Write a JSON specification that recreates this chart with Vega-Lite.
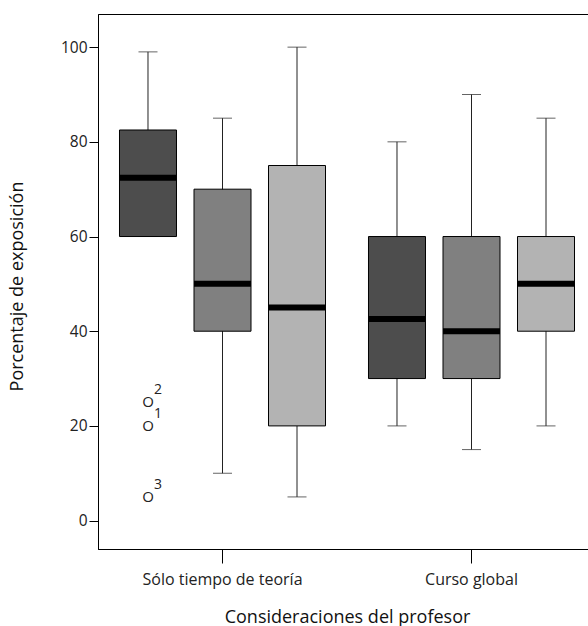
{
  "$schema": "https://vega.github.io/schema/vega-lite/v6.json",
  "width": 490,
  "height": 535,
  "autosize": "none",
  "padding": {"left": 98, "top": 14, "right": 0, "bottom": 77},
  "config": {
    "font": "Open Sans",
    "view": {"stroke": "#000000", "strokeWidth": 1},
    "axis": {"domainColor": "#000000", "tickColor": "#000000", "labelColor": "#222222", "titleColor": "#111111", "grid": false, "labelFont": "Open Sans", "titleFont": "Open Sans", "titleFontWeight": "normal"}
  },
  "datasets": {
    "cajas": [
      {"grupo": "Sólo tiempo de teoría", "serie": "A", "lo": 60, "q1": 60, "med": 72.4, "q3": 82.5, "hi": 99},
      {"grupo": "Sólo tiempo de teoría", "serie": "B", "lo": 10, "q1": 40, "med": 50, "q3": 70, "hi": 85},
      {"grupo": "Sólo tiempo de teoría", "serie": "C", "lo": 5, "q1": 20, "med": 45, "q3": 75, "hi": 100},
      {"grupo": "Curso global", "serie": "A", "lo": 20, "q1": 30, "med": 42.6, "q3": 60, "hi": 80},
      {"grupo": "Curso global", "serie": "B", "lo": 15, "q1": 30, "med": 40, "q3": 60, "hi": 90},
      {"grupo": "Curso global", "serie": "C", "lo": 20, "q1": 40, "med": 50, "q3": 60, "hi": 85}
    ],
    "atipicos": [
      {"grupo": "Sólo tiempo de teoría", "serie": "A", "valor": 25, "caso": "2"},
      {"grupo": "Sólo tiempo de teoría", "serie": "A", "valor": 20, "caso": "1"},
      {"grupo": "Sólo tiempo de teoría", "serie": "A", "valor": 5, "caso": "3"}
    ]
  },
  "encoding": {
    "x": {
      "field": "grupo",
      "type": "nominal",
      "sort": ["Sólo tiempo de teoría", "Curso global"],
      "scale": {"domain": ["Sólo tiempo de teoría", "Curso global"], "range": [0, 498], "paddingInner": 0, "paddingOuter": 0},
      "axis": {
        "title": "Consideraciones del profesor",
        "labelAngle": 0,
        "labelFontSize": 16,
        "titleFontSize": 18,
        "tickSize": 14,
        "labelPadding": 8,
        "titleY": 59,
        "titleAnchor": "middle",
        "titleAlign": "center"
      }
    },
    "xOffset": {
      "field": "serie",
      "type": "nominal",
      "scale": {"domain": ["A", "B", "C"], "paddingInner": 0, "paddingOuter": 0.171}
    }
  },
  "layer": [
    {
      "data": {"name": "cajas"},
      "mark": {"type": "rule", "color": "#222222", "strokeWidth": 1},
      "encoding": {
        "y": {
          "field": "lo",
          "type": "quantitative",
          "scale": {"domain": [-6, 107], "nice": false, "zero": false},
          "axis": {
            "title": "Porcentaje de exposición",
            "values": [0, 20, 40, 60, 80, 100],
            "labelFontSize": 15.5,
            "titleFontSize": 18,
            "tickSize": 9,
            "labelPadding": 2,
            "titleX": -81,
            "titleY": 272,
            "titleAngle": 270,
            "titleAlign": "center",
            "titleBaseline": "middle"
          }
        },
        "y2": {"field": "hi"}
      }
    },
    {
      "data": {"name": "cajas"},
      "mark": {"type": "tick", "color": "#222222", "size": 19, "thickness": 1},
      "encoding": {"y": {"field": "hi", "type": "quantitative"}}
    },
    {
      "data": {"name": "cajas"},
      "mark": {"type": "tick", "color": "#222222", "size": 19, "thickness": 1},
      "encoding": {"y": {"field": "lo", "type": "quantitative"}}
    },
    {
      "data": {"name": "cajas"},
      "mark": {"type": "bar", "width": 57, "stroke": "#000000", "strokeWidth": 1, "opacity": 1},
      "encoding": {
        "y": {"field": "q1", "type": "quantitative"},
        "y2": {"field": "q3"},
        "color": {
          "field": "serie",
          "type": "nominal",
          "scale": {"domain": ["A", "B", "C"], "range": ["#4d4d4d", "#808080", "#b3b3b3"]},
          "legend": null
        }
      }
    },
    {
      "data": {"name": "cajas"},
      "mark": {"type": "tick", "color": "#000000", "size": 57, "thickness": 6, "opacity": 1},
      "encoding": {"y": {"field": "med", "type": "quantitative"}}
    },
    {
      "data": {"name": "atipicos"},
      "mark": {"type": "text", "text": "O", "fontSize": 15, "align": "center", "baseline": "middle", "color": "#222222"},
      "encoding": {"y": {"field": "valor", "type": "quantitative"}}
    },
    {
      "data": {"name": "atipicos"},
      "mark": {"type": "text", "fontSize": 14, "align": "left", "baseline": "middle", "dx": 6, "dy": -12, "color": "#222222"},
      "encoding": {
        "y": {"field": "valor", "type": "quantitative"},
        "text": {"field": "caso", "type": "nominal"}
      }
    }
  ]
}
